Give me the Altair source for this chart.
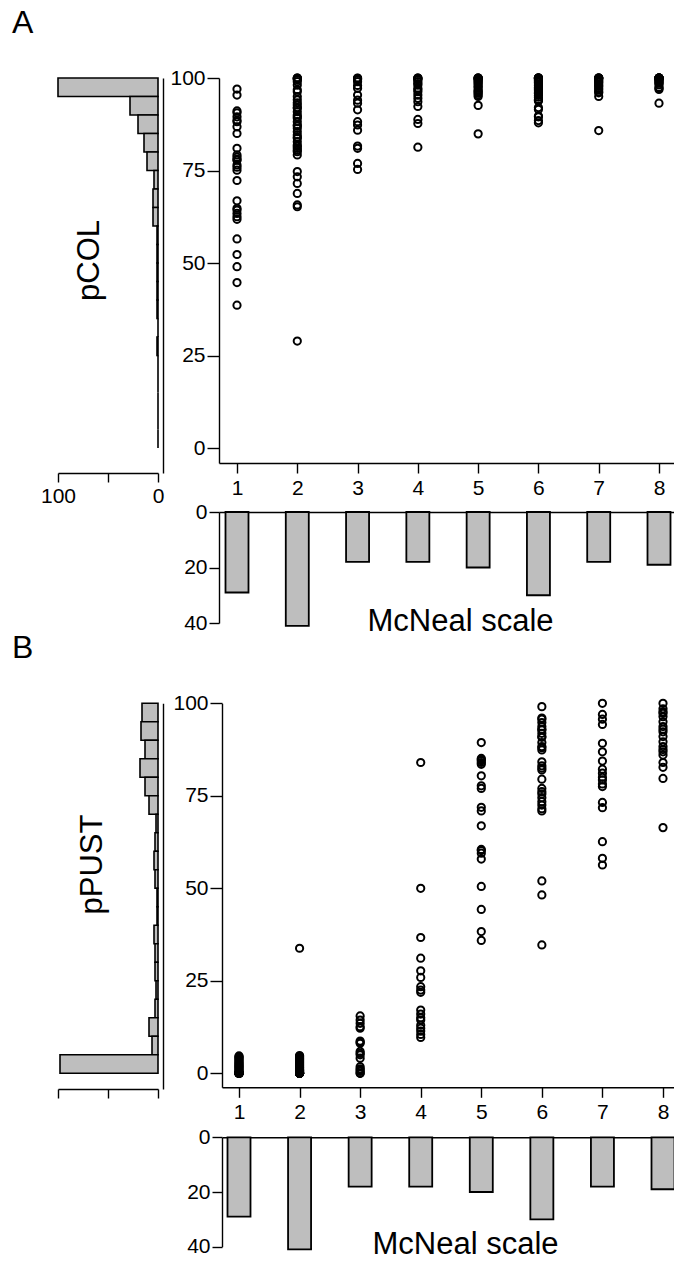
import altair as alt
import pandas as pd

W, H = 674, 1261

# ---------------- data ----------------
mcneal = [1, 2, 3, 4, 5, 6, 7, 8]
n_per_grade = [29, 41, 18, 18, 20, 30, 18, 19]

pcol_1 = [97.0, 95.4, 91.1, 90.6, 89.5, 88.6, 88.2, 86.8, 85.0, 81.0, 79.2, 78.6, 78.0, 77.8, 76.5,
          75.9, 75.1, 72.3, 66.8, 64.8, 64.3, 63.4, 62.5, 61.8, 56.5, 52.3, 49.0, 44.7, 38.6]
pcol_2 = [100, 100, 99.9, 99.7, 99.5, 99.0, 98.1, 96.8, 96.3, 95.0, 94.1, 93.3, 92.7, 92.0, 91.8,
          90.9, 90.0, 89.5, 89.1, 88.2, 87.3, 87.0, 86.4, 85.5, 84.6, 84.0, 83.7, 82.8, 81.9, 81.5,
          81.0, 80.5, 80.1, 79.2, 74.7, 73.3, 71.5, 68.8, 65.7, 65.2, 28.9]
pcol_3 = [100, 99.9, 99.7, 99.5, 99.0, 98.0, 97.2, 95.4, 94.0, 93.2, 91.4, 88.2, 87.3, 85.9, 81.6,
          81.0, 76.9, 75.3]
pcol_4 = [100, 100, 99.9, 99.7, 99.5, 99.0, 98.5, 98.1, 97.2, 96.8, 96.3, 95.4, 94.5, 93.6, 92.3,
          88.8, 87.7, 81.3]
pcol_5 = [100, 100, 100, 99.9, 99.7, 99.5, 99.2, 98.9, 98.6, 98.2, 97.7, 97.4, 96.8, 96.5, 96.2,
          95.9, 95.5, 95.0, 92.6, 84.9]
pcol_6 = [100, 100, 100, 100, 100, 99.9, 99.7, 99.5, 99.3, 99.0, 98.8, 98.4, 98.0, 97.5, 97.2,
          96.9, 96.5, 96.0, 95.8, 95.3, 94.8, 94.2, 94.0, 93.8, 92.0, 91.5, 89.7, 89.5, 88.5, 87.9]
pcol_7 = [100, 100, 100, 100, 99.9, 99.6, 99.3, 99.0, 98.8, 98.4, 98.0, 97.7, 97.2, 96.8, 96.3,
          96.0, 95.0, 85.8]
pcol_8 = [100, 100, 100, 100, 100, 100, 99.9, 99.8, 99.7, 99.5, 99.3, 99.0, 98.8, 98.6, 98.2,
          97.5, 97.2, 96.9, 93.2]

ppust_1 = [4.7, 4.5, 4.2, 3.9, 3.6, 3.3, 3.0, 2.7, 2.5, 2.2, 2.0, 1.8, 1.5, 1.2, 1.0, 0.7, 0.5,
           0.3, 0.2, 0.1, 0, 0, 0, 0, 0, 0, 0, 0, 0]
ppust_2 = [33.8, 4.8, 4.6, 4.4, 4.2, 4.0, 3.8, 3.6, 3.4, 3.2, 3.0, 2.8, 2.6, 2.4, 2.2, 2.0, 1.8,
           1.6, 1.4, 1.2, 1.0, 0.9, 0.8, 0.7, 0.6, 0.5, 0.4, 0.3, 0.2, 0.1, 0, 0, 0, 0, 0, 0, 0,
           0, 0, 0, 0]
ppust_3 = [15.5, 14.4, 13.5, 12.6, 12.2, 8.7, 8.4, 8.1, 5.9, 5.4, 5.0, 4.1, 1.8, 1.2, 0.9, 0.5, 0, 0]
ppust_4 = [84.0, 50.0, 36.7, 31.1, 27.7, 25.9, 23.4, 22.5, 21.9, 17.1, 16.0, 15.0, 14.4, 13.0,
           12.2, 11.4, 10.5, 9.7]
ppust_5 = [89.4, 85.1, 84.8, 84.5, 84.0, 83.5, 80.4, 77.7, 77.0, 71.9, 70.9, 66.9, 60.5, 60.2,
           59.5, 57.9, 50.5, 44.3, 38.3, 35.9]
ppust_6 = [99.1, 96.0, 95.7, 94.8, 93.7, 93.0, 92.8, 91.9, 91.0, 90.8, 89.4, 88.3, 88.0, 87.4,
           84.2, 83.1, 82.5, 82.0, 79.5, 77.0, 76.1, 75.5, 74.5, 73.4, 72.5, 71.5, 70.9, 52.0,
           48.2, 34.7]
ppust_7 = [100, 97.0, 95.7, 94.3, 89.2, 86.9, 84.4, 82.2, 81.1, 80.0, 79.3, 78.2, 77.5, 73.2,
           71.8, 62.6, 58.1, 56.3]
ppust_8 = [100, 98.5, 97.7, 97.3, 96.4, 95.0, 93.7, 93.0, 92.3, 91.0, 89.6, 88.3, 87.5, 86.9,
           86.0, 84.0, 82.7, 79.7, 66.4]

# histogram bins (lower edges, width 5) and counts, top bin first
hist_lower = [95, 90, 85, 80, 75, 70, 65, 60, 55, 50, 45, 40, 35, 30, 25, 20, 15, 10, 5, 0]
hist_pcol = [100, 28, 20, 14, 11, 4, 5, 5, 1, 1, 1, 1, 1, 0, 1, 0, 0, 0, 0, 0]
hist_ppust = [16, 17, 13, 18, 13, 9, 2, 3, 4, 3, 1, 1, 4, 3, 3, 2, 3, 9, 6, 98]

y_ticks = [0, 25, 50, 75, 100]
bar_ticks = [0, 20, 40]
hist_ticks = [0, 50, 100]


def scatter_df(cols):
    rows = []
    for g, vals in zip(mcneal, cols):
        for v in vals:
            rows.append({"mcneal": g, "value": v})
    return pd.DataFrame(rows)


df_pcol = scatter_df([pcol_1, pcol_2, pcol_3, pcol_4, pcol_5, pcol_6, pcol_7, pcol_8])
df_ppust = scatter_df([ppust_1, ppust_2, ppust_3, ppust_4, ppust_5, ppust_6, ppust_7, ppust_8])

FONT = "Liberation Sans"
GREY = "#bebebe"
BAR_W = 23  # bar width in pixels
axis_style = dict(domainColor="black", tickColor="black", labelColor="black", domainWidth=1.4,
                  tickWidth=1.4, labelFont=FONT, labelFontSize=21, grid=False, titleFont=FONT,
                  titleFontSize=31, titleColor="black", titleFontWeight="normal",
                  labelFlush=False, labelOverlap=False)

# pixel layout of each panel
layout_A = dict(letter="A", ylab="pCOL", ax=219, x1=237, x8=659, y100=78, y0=448, xaxis_y=463,
                hist_axis_y=473, hist_line_x=163, hist_base=158, bar_y0=512, bar_y40=623,
                ylab_x=89, ylab_y=260, title_x=460, title_dy=118, letter_y=33, hist_labels=True)
layout_B = dict(letter="B", ylab="pPUST", ax=222, x1=239, x8=663, y100=703.3, y0=1073.3,
                xaxis_y=1087.3, hist_axis_y=1089, hist_line_x=163, hist_base=158, bar_y0=1137.3,
                bar_y40=1246.7, ylab_x=92, ylab_y=864, title_x=465, title_dy=116, letter_y=658,
                hist_labels=False)


def panel(L, df_sc, hist_counts):
    unit = (L["x8"] - L["x1"]) / 7.0
    x_lo = 1 - (L["x1"] - L["ax"]) / unit
    x_hi = 8 + (W - L["x8"]) / unit
    xscale = alt.Scale(domain=[x_lo, x_hi], range=[L["ax"], W], nice=False, zero=False)

    k = (L["y0"] - L["y100"]) / 100.0
    y_lo = -(L["xaxis_y"] - L["y0"]) / k
    yscale = alt.Scale(domain=[y_lo, 100], range=[L["xaxis_y"], L["y100"]], nice=False, zero=False)

    scatter = alt.Chart(df_sc).mark_point(shape="circle", filled=False, color="black", size=52,
                                          strokeWidth=2.0, opacity=1).encode(
        x=alt.X("mcneal:Q", scale=xscale,
                axis=alt.Axis(orient="bottom", offset=L["xaxis_y"] - H, values=mcneal,
                              tickSize=10, labelPadding=4, title=None, format="d", **axis_style)),
        y=alt.Y("value:Q", scale=yscale,
                axis=alt.Axis(orient="left", offset=-L["ax"], values=y_ticks, tickSize=12,
                              labelPadding=2, title=None, format="d", **axis_style)),
    )

    # histogram on the left
    hy_lo = -(L["hist_axis_y"] - L["y0"]) / k
    hyscale = alt.Scale(domain=[hy_lo, 100], range=[L["hist_axis_y"], L["y100"]], nice=False,
                        zero=False)
    hxscale = alt.Scale(domain=[0, 100], range=[L["hist_base"], L["hist_base"] - 100], nice=False)
    df_h = pd.DataFrame({"lo": hist_lower, "count": hist_counts})
    df_h["hi"] = df_h["lo"] + 5
    df_h["zero"] = 0
    hx_axis = dict(orient="bottom", offset=L["hist_axis_y"] - H, values=hist_ticks, tickSize=9,
                   labelPadding=3, title=None, format="d")
    if L["hist_labels"]:
        hx_axis["labelExpr"] = "datum.value == 50 ? '' : datum.label"
    else:
        hx_axis["labels"] = False
    hist = alt.Chart(df_h).mark_rect(fill=GREY, stroke="black", strokeWidth=1.6,
                                     strokeOpacity=1, fillOpacity=1).encode(
        x=alt.X("count:Q", scale=hxscale, axis=alt.Axis(**hx_axis, **axis_style)),
        x2="zero:Q",
        y=alt.Y("lo:Q", scale=hyscale,
                axis=alt.Axis(orient="left", offset=-L["hist_line_x"], ticks=False, labels=False,
                              title=L["ylab"], titleAngle=270, titleAlign="center",
                              titleBaseline="middle", titleX=L["ylab_x"] - L["hist_line_x"],
                              titleY=L["ylab_y"], **axis_style)),
        y2="hi:Q",
    )

    # counts per grade below (rects of fixed pixel width around each grade)
    half = BAR_W / 2.0 / unit
    df_c = pd.DataFrame({"mcneal": mcneal, "n": n_per_grade})
    df_c["left"] = df_c["mcneal"] - half
    df_c["right"] = df_c["mcneal"] + half
    df_c["zero"] = 0
    byscale = alt.Scale(domain=[0, 40], range=[L["bar_y0"], L["bar_y40"]], nice=False)
    bars = alt.Chart(df_c).mark_rect(fill=GREY, stroke="black", strokeWidth=1.8,
                                     strokeOpacity=1, fillOpacity=1).encode(
        x=alt.X("left:Q", scale=xscale,
                axis=alt.Axis(orient="top", offset=-L["bar_y0"], ticks=False, labels=False,
                              title="McNeal scale", titleX=L["title_x"],
                              titleY=L["title_dy"], titleAlign="center",
                              titleBaseline="alphabetic", titleAngle=0, **axis_style)),
        x2="right:Q",
        y=alt.Y("n:Q", scale=byscale,
                axis=alt.Axis(orient="left", offset=-L["ax"], values=bar_ticks, tickSize=10,
                              labelPadding=2, title=None, format="d", **axis_style)),
        y2="zero:Q",
    )

    letter = alt.Chart(pd.DataFrame({"t": [L["letter"]]})).mark_text(
        font=FONT, fontSize=32, align="left", baseline="alphabetic", color="black").encode(
        text="t:N", x=alt.value(12), y=alt.value(L["letter_y"]))

    return [scatter, hist, bars, letter]


layers = panel(layout_A, df_pcol, hist_pcol) + panel(layout_B, df_ppust, hist_ppust)

chart = alt.layer(*layers).resolve_scale(x="independent", y="independent").properties(
    width=W, height=H, padding=0, autosize=alt.AutoSizeParams(type="none"), background="white"
).configure_view(stroke=None)

chart.save("out.html", embed_options={"renderer": "svg", "actions": False})
